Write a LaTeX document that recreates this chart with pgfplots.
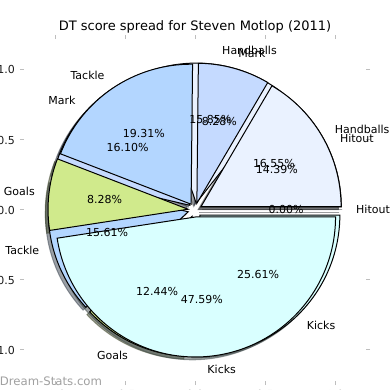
\documentclass[border=0pt]{standalone}
\usepackage{pgfplots}
\pgfplotsset{compat=1.18}
\usepackage{pgfplotstable}
\usepackage{fontspec}
\setmainfont{DejaVu Sans}

\definecolor{cHitout}{RGB}{224,232,244}
\definecolor{cHandballs}{RGB}{234,242,255}
\definecolor{cMark}{RGB}{197,218,255}
\definecolor{cTackle}{RGB}{179,214,255}
\definecolor{cGoals}{RGB}{208,234,140}
\definecolor{cKicks}{RGB}{217,255,255}
\definecolor{tickgray}{RGB}{190,190,190}
\definecolor{wmgray}{RGB}{160,160,160}

% share of DT score (%) per category; "back" pie drawn first, "front" pie over it
\pgfplotstableread{
cat       back  front
Hitout    14.39 0.00
Handballs 15.85 16.55
Mark      16.10 8.28
Tackle    15.61 19.31
Goals     12.44 8.28
Kicks     25.61 47.59
}\piedata

\newcommand\piepass[2]{%
  \gdef\piecum{0}%
  \foreach \r in {0,...,5}{%
    \pgfplotstablegetelem{\r}{#1}\of\piedata\let\val\pgfplotsretval
    \pgfplotstablegetelem{\r}{cat}\of\piedata\let\cat\pgfplotsretval
    \pgfmathsetmacro\sa{\piecum*3.6}%
    \pgfmathsetmacro\ea{(\piecum+\val)*3.6}%
    \pgfmathsetmacro\ma{(\sa+\ea)/2}%
    \pgfmathsetmacro\cx{0.05*cos(\ma)}%
    \pgfmathsetmacro\cy{0.05*sin(\ma)}%
    \pgfmathsetmacro\sx{\cx-0.02}%
    \pgfmathsetmacro\sy{\cy-0.02}%
    \pgfmathsetmacro\lx{\cx+1.1*cos(\ma)}%
    \pgfmathsetmacro\ly{\cy+1.1*sin(\ma)}%
    \pgfmathsetmacro\px{\cx+0.6*cos(\ma)}%
    \pgfmathsetmacro\py{\cy+0.6*sin(\ma)}%
    \pgfmathsetmacro\pietmp{\piecum+\val}\global\let\piecum\pietmp
    #2%
  }%
}
\newcommand\shadowcode{\filldraw[fill=c\cat!30!black, draw=c\cat!30!black, opacity=0.5, line width=1pt]
   (axis cs:\sx,\sy) -- ++(\sa:140pt) arc[start angle=\sa, end angle=\ea, radius=140pt] -- cycle;}
\newcommand\wedgecode{\filldraw[fill=c\cat, draw=black, line width=1pt]
   (axis cs:\cx,\cy) -- ++(\sa:140pt) arc[start angle=\sa, end angle=\ea, radius=140pt] -- cycle;}
\newcommand\textcode{%
  \ifdim\lx pt>0pt \def\anc{west}\else\def\anc{east}\fi
  \node[anchor=\anc, inner sep=0pt, font=\fontsize{11}{13}\selectfont] at (axis cs:\lx,\ly) {\cat\vphantom{lp}};
  \node[anchor=center, inner sep=0pt, font=\fontsize{11}{13}\selectfont] at (axis cs:\px,\py) {\val\%\vphantom{lp}};}

\begin{document}
\begin{tikzpicture}
\useasboundingbox (0,0) rectangle (390pt,390pt);
\clip (0,0) rectangle (390pt,390pt);
\begin{axis}[
  at={(20pt,5pt)}, anchor=south west,
  x=140pt, y=140pt,
  xmin=-1.25, xmax=1.25, ymin=-1.25, ymax=1.25,
  clip=false,
  axis line style={draw=none},
  tick style={color=tickgray, line width=1pt},
  major tick length=4pt,
  tick align=inside,
  xtick={-1,-0.5,0,0.5,1}, ytick={-1,-0.5,0,0.5,1},
  /pgf/number format/assume math mode=true,
  /pgf/number format/fixed,
  /pgf/number format/fixed zerofill,
  /pgf/number format/precision=1,
  ticklabel style={font=\fontsize{11}{13}\selectfont, text=black!90},
  yticklabel style={anchor=east, inner sep=0pt, xshift=-5pt},
  xticklabel style={anchor=north, inner sep=0pt, yshift=-5pt},
]
\pgfplotsextra{%
  \piepass{back}{\shadowcode}%
  \piepass{front}{\shadowcode}%
  \piepass{back}{\wedgecode}%
  \piepass{front}{\wedgecode}%
  \piepass{back}{\textcode}%
  \piepass{front}{\textcode}%
}
\end{axis}
\node[font=\fontsize{13}{15}\selectfont, inner sep=0pt] at (195pt,363.5pt) {DT score spread for Steven Motlop (2011)\vphantom{lp}};
\node[font=\fontsize{11.7}{14}\selectfont, text=wmgray, anchor=base west, inner sep=0pt] at (-0.3pt,5pt) {Dream-Stats.com};
\end{tikzpicture}
\end{document}
